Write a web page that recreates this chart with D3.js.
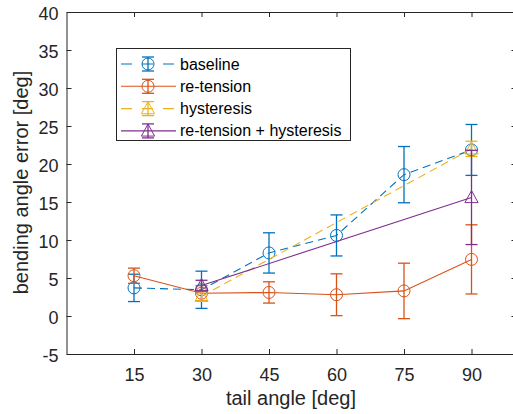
<!DOCTYPE html>
<html>
<head>
<meta charset="utf-8">
<script src="https://cdn.jsdelivr.net/npm/d3@7"></script>
<style>
  html, body { margin: 0; padding: 0; background: #fff; }
  svg { display: block; font-family: "Liberation Sans", Arial, sans-serif; }
</style>
</head>
<body>
<svg id="chart" width="513" height="414"></svg>
<script>
// Tail angles (deg) and mean bending angle error with error-bar half widths
const angles = [15, 30, 45, 60, 75, 90];
const baselineMean = [3.7, 3.45, 8.3, 10.6, 18.6, 21.85];
const baselineErr = [1.8, 2.45, 2.65, 2.7, 3.7, 3.35];
const retensionMean = [5.3, 3.0, 3.1, 2.8, 3.3, 7.45];
const retensionErr = [1.0, 1.0, 1.4, 2.75, 3.65, 4.55];
const hysteresisAngles = [30, 90];
const hysteresisMean = [2.6, 22.0];
const hysteresisErr = [0.6, 1.0];
const bothAngles = [30, 90];
const bothMean = [4.0, 15.6];
const bothErr = [0.7, 6.2];

const xTicks = [15, 30, 45, 60, 75, 90];
const yTicks = [-5, 0, 5, 10, 15, 20, 25, 30, 35, 40];

const svg = d3.select("#chart");
const axisColor = "#262626";

const x = d3.scaleLinear().domain([0, 100]).range([66.5, 516.5]);
const y = d3.scaleLinear().domain([-5, 40]).range([354, 12]);

const series = [
  { name: "baseline", xs: angles, m: baselineMean, e: baselineErr, color: "#0072BD", dash: "8,5", marker: "circle" },
  { name: "re-tension", xs: angles, m: retensionMean, e: retensionErr, color: "#D95319", dash: null, marker: "circle" },
  { name: "hysteresis", xs: hysteresisAngles, m: hysteresisMean, e: hysteresisErr, color: "#EDB120", dash: "8,5", marker: "triangle" },
  { name: "re-tension + hysteresis", xs: bothAngles, m: bothMean, e: bothErr, color: "#7E2F8E", dash: null, marker: "triangle" }
];

// Axes with inward ticks on all four sides
const tickLen = 5;
const fmt = d => String(d);
const xAxisB = d3.axisBottom(x).tickValues(xTicks).tickSizeInner(-tickLen).tickSizeOuter(0).tickPadding(14).tickFormat(fmt);
const xAxisT = d3.axisTop(x).tickValues(xTicks).tickSizeInner(-tickLen).tickSizeOuter(0).tickFormat("");
const yAxisL = d3.axisLeft(y).tickValues(yTicks).tickSizeInner(-tickLen).tickSizeOuter(0).tickPadding(8).tickFormat(fmt);
const yAxisR = d3.axisRight(y).tickValues(yTicks).tickSizeInner(-tickLen).tickSizeOuter(0).tickFormat("");

function styleAxis(g) {
  g.select(".domain").attr("stroke", axisColor).attr("stroke-width", 1);
  g.selectAll(".tick line").attr("stroke", axisColor).attr("stroke-width", 1);
  g.selectAll(".tick text").attr("fill", axisColor).attr("font-size", 18)
    .attr("font-family", "'Liberation Sans', Arial, sans-serif");
}

svg.append("g").attr("transform", "translate(0,354)").call(xAxisB).call(styleAxis);
svg.append("g").attr("transform", "translate(0,12)").call(xAxisT).call(styleAxis);
svg.append("g").attr("transform", "translate(66.5,0)").call(yAxisL).call(styleAxis)
  .selectAll(".tick text").attr("dy", "0.4em");
svg.append("g").attr("transform", "translate(516.5,0)").call(yAxisR).call(styleAxis);

// Axis titles
svg.append("text").attr("x", 291).attr("y", 405).attr("text-anchor", "middle")
  .attr("font-size", 20).attr("fill", axisColor).text("tail angle [deg]");
svg.append("text").attr("transform", "translate(28,182.5) rotate(-90)").attr("text-anchor", "middle")
  .attr("font-size", 20).attr("fill", axisColor).text("bending angle error [deg]");

const cap = 6;
const mSize = 6;

function drawMarker(g, cx, cy, kind, color) {
  if (kind === "circle") {
    g.append("circle").attr("cx", cx).attr("cy", cy).attr("r", mSize)
      .attr("fill", "none").attr("stroke", color).attr("stroke-width", 1);
  } else {
    const h = mSize * 1.15;
    g.append("path")
      .attr("d", `M${cx},${cy - h} L${cx + mSize * 1.1},${cy + h * 0.75} L${cx - mSize * 1.1},${cy + h * 0.75} Z`)
      .attr("fill", "none").attr("stroke", color).attr("stroke-width", 1);
  }
}

function drawErrorBar(g, cx, lo, hi, color) {
  g.append("line").attr("x1", cx).attr("x2", cx).attr("y1", lo).attr("y2", hi)
    .attr("stroke", color).attr("stroke-width", 1.3);
  [lo, hi].forEach(v => {
    g.append("line").attr("x1", cx - cap).attr("x2", cx + cap).attr("y1", v).attr("y2", v)
      .attr("stroke", color).attr("stroke-width", 1.3);
  });
}

const line = d3.line().x(d => x(d[0])).y(d => y(d[1]));

series.forEach(s => {
  const g = svg.append("g");
  const pts = s.xs.map((a, i) => [a, s.m[i]]);
  g.append("path").attr("d", line(pts)).attr("fill", "none")
    .attr("stroke", s.color).attr("stroke-width", 1.1)
    .attr("stroke-dasharray", s.dash);
  s.xs.forEach((a, i) => {
    drawErrorBar(g, x(a), y(s.m[i] - s.e[i]), y(s.m[i] + s.e[i]), s.color);
    drawMarker(g, x(a), y(s.m[i]), s.marker, s.color);
  });
});

// Legend
const leg = svg.append("g");
leg.append("rect").attr("x", 116.5).attr("y", 48.5).attr("width", 234).attr("height", 92)
  .attr("fill", "#fff").attr("stroke", axisColor).attr("stroke-width", 1);
series.forEach((s, i) => {
  const cy = 64 + i * 22.3;
  leg.append("line").attr("x1", 121).attr("x2", 176).attr("y1", cy).attr("y2", cy)
    .attr("stroke", s.color).attr("stroke-width", 1.1)
    .attr("stroke-dasharray", s.dash ? "11,10" : null);
  const lg = leg.append("g");
  drawErrorBar(lg, 148, cy + 7, cy - 7, s.color);
  drawMarker(lg, 148, cy, s.marker, s.color);
  leg.append("text").attr("x", 180).attr("y", cy + 5.5).attr("font-size", 16)
    .attr("fill", "#000").text(s.name);
});
</script>
</body>
</html>
